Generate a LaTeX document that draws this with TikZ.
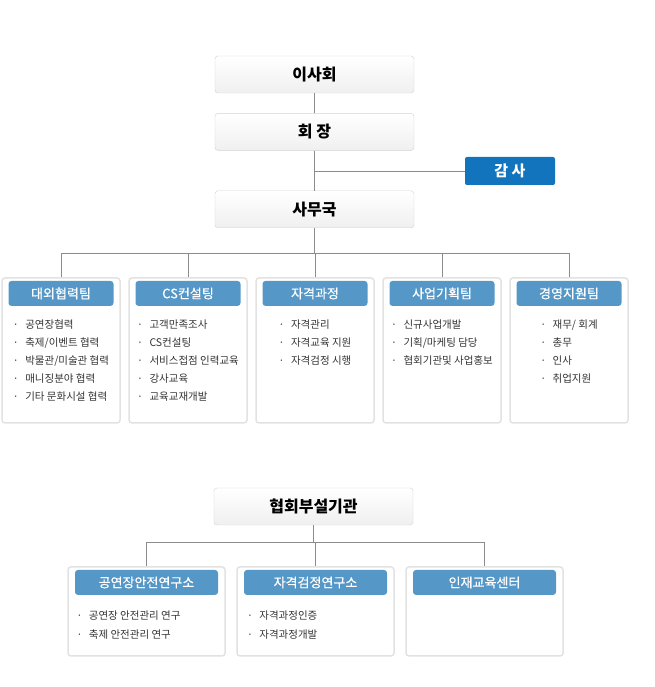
\documentclass[tikz,border=0pt]{standalone}
\usepackage{fontspec}
\setmainfont{Noto Sans CJK KR}
\usetikzlibrary{positioning}
\definecolor{linegray}{HTML}{8C8C8C}
\definecolor{boxline}{HTML}{D2D2D2}
\definecolor{teamline}{HTML}{E2E2E2}
\definecolor{headblue}{HTML}{5597C6}
\definecolor{auditblue}{HTML}{1174BC}
\definecolor{itemtext}{HTML}{333333}
\newcommand{\bul}{·\hspace{6.5pt}}
\tikzset{
  topbox/.style={draw=boxline, top color=white, bottom color=gray!12, rounded corners=3pt,
    minimum width=199pt, minimum height=37pt, font=\fontsize{16}{16}\selectfont\bfseries},
  audit/.style={fill=auditblue, rounded corners=2pt, minimum width=90pt, minimum height=28pt,
    text=white, font=\fontsize{15}{15}\selectfont\bfseries},
  team/.style={draw=teamline, line width=1.5pt, rounded corners=3pt,
    minimum width=118pt, minimum height=145pt},
  subbox/.style={team, minimum width=157pt, minimum height=89pt},
  head/.style={fill=headblue, rounded corners=3pt, minimum width=105pt, minimum height=25pt,
    text=white, font=\fontsize{13}{13}\selectfont\addfontfeatures{FakeBold=0.6}},
  subhead/.style={head, minimum width=143pt},
  items/.style={align=left, text=itemtext, font=\fontsize{10.5}{18}\selectfont, inner sep=0pt},
  link/.style={draw=linegray, line width=0.8pt}
}

\begin{document}
\begin{tikzpicture}[x=1pt, y=1pt]
  \useasboundingbox (0,0) rectangle (654,687);

  \node (a)  [topbox] at (314.5,612.5) {이사회};
  \node (b)  [topbox, below=20pt of a] {회 장};
  \node (c)  [topbox, below=40pt of b] {사무국};
  \node (au) [audit] at (510,516) {감 사};

  \node (t1) [team] at (61,336.5) {};
  \node (t2) [team, right=7.5pt of t1] {};
  \node (t3) [team, right=7.5pt of t2] {};
  \node (t4) [team, right=7.5pt of t3] {};
  \node (t5) [team, right=7.5pt of t4] {};

  \node (h1) [head, below=3.5pt of t1.north] {대외협력팀};
  \node (h2) [head, below=3.5pt of t2.north] {CS컨설팅};
  \node (h3) [head, below=3.5pt of t3.north] {자격과정};
  \node (h4) [head, below=3.5pt of t4.north] {사업기획팀};
  \node (h5) [head, below=3.5pt of t5.north] {경영지원팀};

  \node (i1) [items, below=13pt of h1] {\bul 공연장협력\\ \bul 축제/이벤트 협력\\ \bul 박물관/미술관 협력\\ \bul 매니징분야 협력\\ \bul 기타 문화시설 협력};
  \node (i2) [items, below=13pt of h2] {\bul 고객만족조사\\ \bul CS컨설팅\\ \bul 서비스접점 인력교육\\ \bul 강사교육\\ \bul 교육교재개발};
  \node (i3) [items, below=13pt of h3] {\bul 자격관리\\ \bul 자격교육 지원\\ \bul 자격검정 시행};
  \node (i4) [items, below=13pt of h4] {\bul 신규사업개발\\ \bul 기획/마케팅 담당\\ \bul 협회기관및 사업홍보};
  \node (i5) [items, below=13pt of h5] {\bul 재무/ 회계\\ \bul 총무\\ \bul 인사\\ \bul 취업지원};

  \node (d)  [topbox] at (313.5,180.5) {협회부설기관};

  \node (s1) [subbox] at (146.5,75.5) {};
  \node (s2) [subbox, right=10.5pt of s1] {};
  \node (s3) [subbox, right=10.5pt of s2] {};

  \node (g1) [subhead, below=3.5pt of s1.north] {공연장안전연구소};
  \node (g2) [subhead, below=3.5pt of s2.north] {자격검정연구소};
  \node (g3) [subhead, below=3.5pt of s3.north] {인재교육센터};

  \node (j1) [items, font=\fontsize{10.5}{19}\selectfont, anchor=north west] at ([xshift=1.5pt, yshift=-15pt] g1.south west) {\bul 공연장 안전관리 연구\\ \bul 축제 안전관리 연구};
  \node (j2) [items, font=\fontsize{10.5}{19}\selectfont, anchor=north west] at ([xshift=3pt, yshift=-15pt] g2.south west) {\bul 자격과정인증\\ \bul 자격과정개발};

  \coordinate (bus) at (314.5,434);
  \coordinate (subbus) at (313.5,145);

  \draw[link] (a) -- (b);
  \draw[link] (b) -- (c);
  \draw[link] (b.south |- au.west) -- (au.west);
  \draw[link] (c) -- (bus);
  \draw[link] (t1.north) -- (t1.north |- bus) -- (t5.north |- bus) -- (t5.north);
  \draw[link] (t2.north) -- (t2.north |- bus);
  \draw[link] (t3.north) -- (t3.north |- bus);
  \draw[link] (t4.north) -- (t4.north |- bus);

  \draw[link] (d) -- (subbus);
  \draw[link] (s1.north) -- (s1.north |- subbus) -- (s3.north |- subbus) -- (s3.north);
  \draw[link] (s2.north) -- (s2.north |- subbus);
\end{tikzpicture}
\end{document}
